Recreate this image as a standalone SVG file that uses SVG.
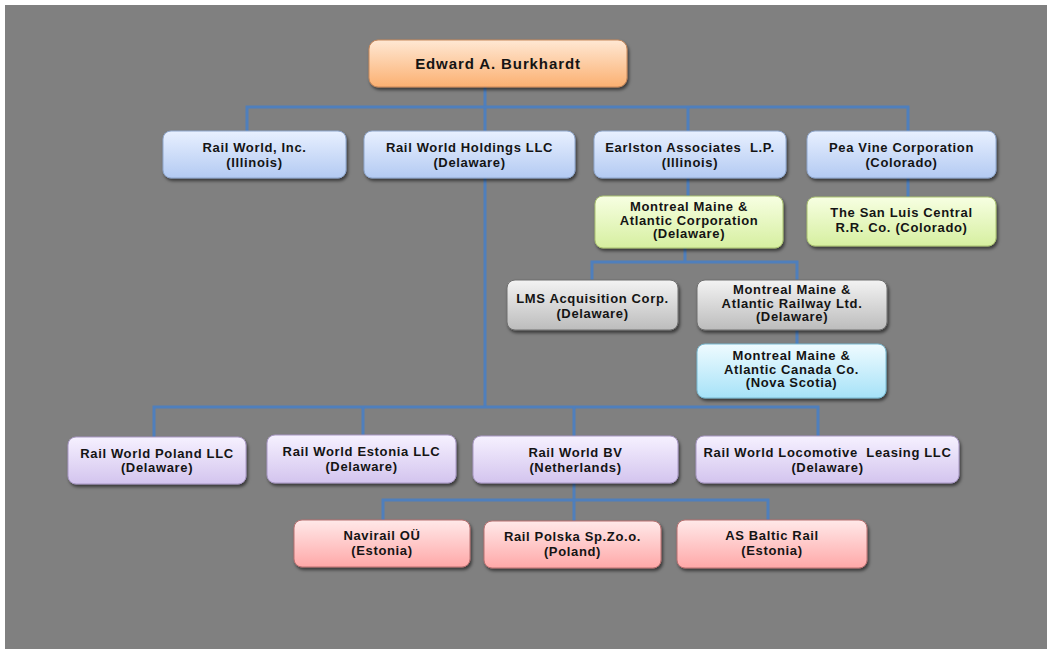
<svg xmlns="http://www.w3.org/2000/svg" width="1047" height="649" viewBox="0 0 1047 649">
<defs>
<linearGradient id="gOrange" x1="0" y1="0" x2="0" y2="1"><stop offset="0" stop-color="#ffe8d4"/><stop offset="1" stop-color="#fbb071"/></linearGradient>
<linearGradient id="gBlue" x1="0" y1="0" x2="0" y2="1"><stop offset="0" stop-color="#e8f0ff"/><stop offset="1" stop-color="#b3caf2"/></linearGradient>
<linearGradient id="gGreen" x1="0" y1="0" x2="0" y2="1"><stop offset="0" stop-color="#f7ffe2"/><stop offset="1" stop-color="#d6efa0"/></linearGradient>
<linearGradient id="gGrey" x1="0" y1="0" x2="0" y2="1"><stop offset="0" stop-color="#f3f3f3"/><stop offset="1" stop-color="#bcbcbc"/></linearGradient>
<linearGradient id="gCyan" x1="0" y1="0" x2="0" y2="1"><stop offset="0" stop-color="#effbff"/><stop offset="1" stop-color="#a6e2f8"/></linearGradient>
<linearGradient id="gPurple" x1="0" y1="0" x2="0" y2="1"><stop offset="0" stop-color="#f6f1ff"/><stop offset="1" stop-color="#d3c4ee"/></linearGradient>
<linearGradient id="gPink" x1="0" y1="0" x2="0" y2="1"><stop offset="0" stop-color="#ffe9e9"/><stop offset="1" stop-color="#ffa8a8"/></linearGradient>
<filter id="shadow" x="-10%" y="-20%" width="125%" height="150%"><feDropShadow dx="1.5" dy="2.5" stdDeviation="1.5" flood-color="#000" flood-opacity="0.55"/></filter>
</defs>
<style>
.box{filter:url(#shadow);stroke-width:1}
.orange{fill:url(#gOrange);stroke:#c8885a}
.blue{fill:url(#gBlue);stroke:#8ea6cc}
.green{fill:url(#gGreen);stroke:#a9c070}
.grey{fill:url(#gGrey);stroke:#6e6e6e}
.cyan{fill:url(#gCyan);stroke:#78b8d0}
.purple{fill:url(#gPurple);stroke:#a898c4}
.pink{fill:url(#gPink);stroke:#b87070}
text{font-family:"Liberation Sans",Arial,sans-serif;font-weight:bold;font-size:13px;fill:#141414;text-anchor:middle;letter-spacing:0.65px}
.title{font-size:15px;letter-spacing:0.9px}
.conn{fill:none;stroke:#4f7fbc;stroke-width:3}
</style>
<rect x="5" y="5" width="1042" height="644" fill="#808080"/>
<g id="connectors" class="conn">
<path d="M485 87 V407"/>
<path d="M247 131 V107 H908 V131"/>
<path d="M688 107 V131"/>
<path d="M688 178 V196"/>
<path d="M908 178 V197"/>
<path d="M685 248 V262"/>
<path d="M592 280 V262 H797 V280"/>
<path d="M797 330 V344"/>
<path d="M154 437 V407 H818 V436"/>
<path d="M363 407 V435"/>
<path d="M574 407 V436"/>
<path d="M574 483 V521"/>
<path d="M383 520 V500 H768 V520"/>
</g>
<g id="edward"><rect class="box orange" x="369" y="40" width="258" height="47" rx="9"/><text class="title" x="498" y="69">Edward A. Burkhardt</text></g>
<g id="rail-world-inc"><rect class="box blue" x="163" y="131" width="183" height="47" rx="8"/><text x="254.5" y="152">Rail World, Inc.</text><text x="254.5" y="167">(Illinois)</text></g>
<g id="rail-world-holdings"><rect class="box blue" x="364" y="131" width="211" height="47" rx="8"/><text x="469.5" y="152">Rail World Holdings LLC</text><text x="469.5" y="167">(Delaware)</text></g>
<g id="earlston"><rect class="box blue" x="594" y="131" width="192" height="47" rx="8"/><text x="690" y="152" xml:space="preserve">Earlston Associates  L.P.</text><text x="690" y="167">(Illinois)</text></g>
<g id="pea-vine"><rect class="box blue" x="807" y="131" width="189" height="47" rx="8"/><text x="901.5" y="152">Pea Vine Corporation</text><text x="901.5" y="167">(Colorado)</text></g>
<g id="mma-corp"><rect class="box green" x="595" y="196" width="188" height="52" rx="8"/><text x="689" y="211">Montreal Maine &amp;</text><text x="689" y="224.5">Atlantic Corporation</text><text x="689" y="238">(Delaware)</text></g>
<g id="san-luis"><rect class="box green" x="807" y="197" width="189" height="49" rx="8"/><text x="901.5" y="217">The San Luis Central</text><text x="901.5" y="232">R.R. Co. (Colorado)</text></g>
<g id="lms"><rect class="box grey" x="507" y="280" width="171" height="50" rx="8"/><text x="592.5" y="302.5">LMS Acquisition Corp.</text><text x="592.5" y="317.5">(Delaware)</text></g>
<g id="mma-railway"><rect class="box grey" x="697" y="280" width="190" height="50" rx="8"/><text x="792" y="294">Montreal Maine &amp;</text><text x="792" y="307.5">Atlantic Railway Ltd.</text><text x="792" y="321">(Delaware)</text></g>
<g id="mma-canada"><rect class="box cyan" x="697" y="344" width="189" height="54" rx="8"/><text x="791.5" y="360">Montreal Maine &amp;</text><text x="791.5" y="373.5">Atlantic Canada Co.</text><text x="791.5" y="387">(Nova Scotia)</text></g>
<g id="rw-poland"><rect class="box purple" x="68" y="437" width="178" height="47" rx="8"/><text x="157" y="457.5">Rail World Poland LLC</text><text x="157" y="472">(Delaware)</text></g>
<g id="rw-estonia"><rect class="box purple" x="267" y="435" width="189" height="48" rx="8"/><text x="361.5" y="456">Rail World Estonia LLC</text><text x="361.5" y="470.5">(Delaware)</text></g>
<g id="rw-bv"><rect class="box purple" x="473" y="436" width="205" height="47" rx="8"/><text x="575.5" y="457">Rail World BV</text><text x="575.5" y="471.5">(Netherlands)</text></g>
<g id="rw-leasing"><rect class="box purple" x="696" y="436" width="263" height="47" rx="8"/><text x="827.5" y="457" xml:space="preserve">Rail World Locomotive  Leasing LLC</text><text x="827.5" y="471.5">(Delaware)</text></g>
<g id="navirail"><rect class="box pink" x="294" y="520" width="176" height="47" rx="8"/><text x="382" y="540">Navirail OÜ</text><text x="382" y="554.5">(Estonia)</text></g>
<g id="rail-polska"><rect class="box pink" x="484" y="521" width="177" height="47" rx="8"/><text x="572.5" y="541">Rail Polska Sp.Zo.o.</text><text x="572.5" y="555.5">(Poland)</text></g>
<g id="as-baltic"><rect class="box pink" x="677" y="520" width="190" height="48" rx="8"/><text x="772" y="540">AS Baltic Rail</text><text x="772" y="554.5">(Estonia)</text></g>
</svg>
